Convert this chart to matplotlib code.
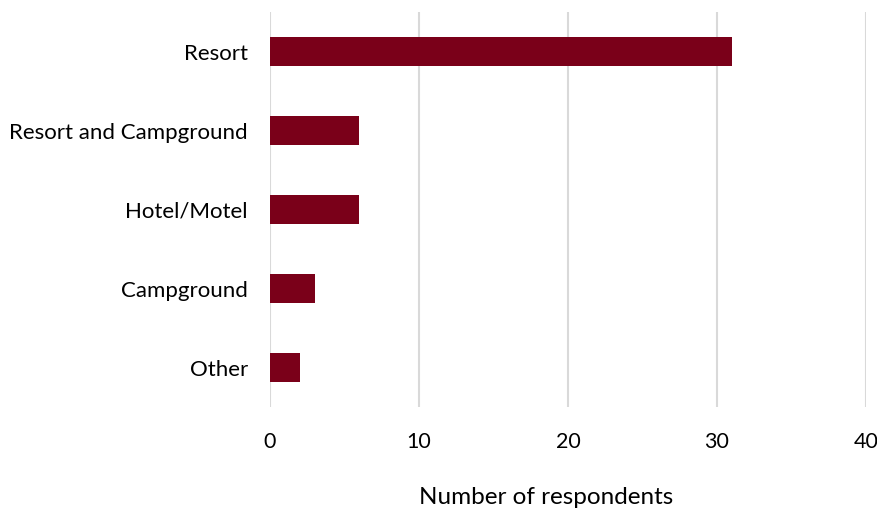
import matplotlib
matplotlib.use("Agg")
import matplotlib.pyplot as plt

categories = ["Resort", "Resort and Campground", "Hotel/Motel", "Campground", "Other"]
counts = [31, 6, 6, 3, 2]
x_ticks = [0, 10, 20, 30, 40]

plt.rcParams['font.family'] = ['Lato', 'DejaVu Sans']

fig = plt.figure(figsize=(8.77, 5.15), dpi=100)
ax = fig.add_axes([0.3079, 0.2097, 0.6796, 0.7670])

ypos = list(range(len(categories)))
ax.barh(ypos, counts, height=0.36, color="#7a0019", zorder=3)

ax.set_yticks(ypos)
ax.set_yticklabels(categories, fontsize=16, color="#000000")
ax.set_ylim(len(categories) - 0.5, -0.5)

ax.set_xlim(0, 40)
ax.set_xticks(x_ticks)
ax.set_xticklabels([str(t) for t in x_ticks], fontsize=15.5, color="#000000")
ax.xaxis.grid(True, color="#d9d9d9", linewidth=1.5, zorder=0)
# axis title sits a little left of the plot centre
ax.set_xlabel("Number of respondents", fontsize=17.5, labelpad=25, x=0.463)

for s in ax.spines.values():
    s.set_visible(False)
ax.tick_params(axis="both", length=0)
ax.tick_params(axis="x", pad=18)
ax.tick_params(axis="y", pad=16)

fig.savefig("out.png", dpi=100)
